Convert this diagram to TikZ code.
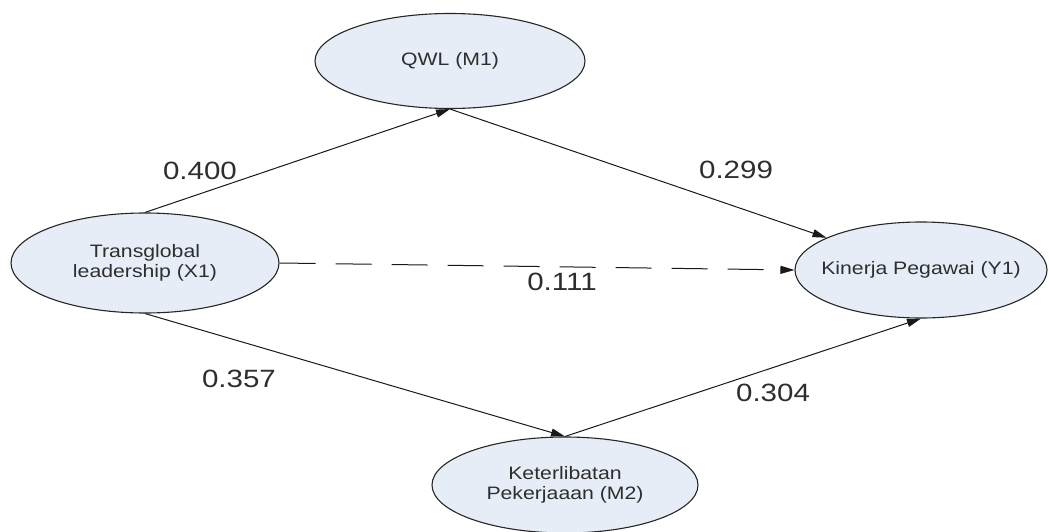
\documentclass[tikz,border=0pt]{standalone}
\usepackage{fontspec}
\setmainfont{Liberation Sans}[FakeStretch=1.18]
\usetikzlibrary{shapes.geometric,arrows.meta}
\definecolor{nodefill}{HTML}{E6EDF7}
\definecolor{txt}{HTML}{2E2E2E}
\begin{document}
\begin{tikzpicture}[x=1pt,y=-1pt,
  latent/.style={ellipse,draw=black!85,line width=1.1pt,fill=nodefill,inner sep=0pt},
  lbl/.style={align=center,text=txt,font=\fontsize{18}{20.5}\selectfont,inner sep=0pt},
  coef/.style={text=txt,font=\fontsize{25}{28}\selectfont,inner sep=0pt},
  path/.style={draw=black!90,line width=1pt,-{Triangle[length=14pt,width=8pt]}},
  dpath/.style={path,dash pattern=on 36pt off 20pt}
]
\useasboundingbox (0,0) rectangle (1049,532);
\node[latent,minimum width=270pt,minimum height=95pt,label={[lbl]center:QWL (M1)}] (m1) at (450,61) {};
\node[latent,minimum width=268pt,minimum height=100pt,label={[lbl]center:Transglobal\\leadership (X1)}] (x1) at (145,263) {};
\node[latent,minimum width=252pt,minimum height=96pt,label={[lbl]center:Kinerja Pegawai (Y1)}] (y1) at (921,270) {};
\node[latent,minimum width=266pt,minimum height=96pt,label={[lbl]center:Keterlibatan\\Pekerjaaan (M2)}] (m2) at (565,485) {};

\draw[path] (x1.north) -- (m1.south);
\draw[path] (m1.south) -- (y1);
\draw[path] (x1.south) -- (m2.north);
\draw[path] (m2.north) -- (y1.south);
\draw[dpath] (x1.east) -- (y1.west);

\node[coef] (c1) at (200,171) {0.400};
\node[coef] (c2) at (736,170) {0.299};
\node[coef] (c3) at (562,282) {0.111};
\node[coef] (c4) at (239,379) {0.357};
\node[coef] (c5) at (773,393) {0.304};
\end{tikzpicture}
\end{document}
